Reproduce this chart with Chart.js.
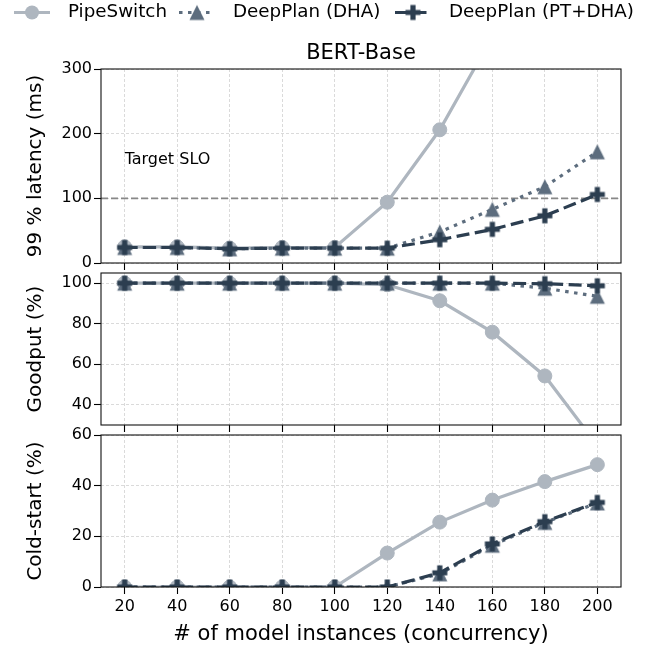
<!DOCTYPE html>
<html>
<head>
<meta charset="utf-8">
<script src="https://cdn.jsdelivr.net/npm/chart.js@4.4.1/dist/chart.umd.min.js"></script>
<style>
  html, body { margin:0; padding:0; background:#fff; }
  #wrap { position:relative; width:646px; height:649px; overflow:hidden; }
  canvas { position:absolute; left:0; }
</style>
</head>
<body>
<div id="wrap">
  <canvas id="latency" width="646" height="275" style="top:0px;width:646px;height:275px"></canvas>
  <canvas id="goodput" width="646" height="172" style="top:265px;width:646px;height:172px"></canvas>
  <canvas id="coldstart" width="646" height="222" style="top:427px;width:646px;height:222px"></canvas>
</div>
<script>
// ---- data ----
const concurrency = [20, 40, 60, 80, 100, 120, 140, 160, 180, 200];
const seriesNames = ['PipeSwitch', 'DeepPlan (DHA)', 'DeepPlan (PT+DHA)'];

const latencyPipeSwitch = [25, 25, 23, 24, 24, 94, 206, 350, 520, 700];
const latencyDHA        = [24, 24, 22, 23, 23, 23, 48, 83, 118, 172];
const latencyPTDHA      = [24, 24, 22, 23, 23, 23, 36, 52, 73, 106];

const goodputPipeSwitch = [100, 100, 100, 100, 100, 99.2, 91.3, 75.8, 54.2, 20];
const goodputDHA        = [100, 100, 100, 100, 100, 100, 100, 100, 97.5, 93.5];
const goodputPTDHA      = [100, 100, 100, 100, 100, 100, 100, 100, 99.7, 98.7];

const coldPipeSwitch = [0, 0, 0, 0, 0, 13.4, 25.6, 34.3, 41.6, 48.3];
const coldDHA        = [0, 0, 0, 0, 0, 0, 5.2, 16.5, 25.5, 33.2];
const coldPTDHA      = [0, 0, 0, 0, 0, 0, 5.6, 17.0, 25.8, 33.4];

const xTicks = [20, 40, 60, 80, 100, 120, 140, 160, 180, 200];
const latencyTicks = [0, 100, 200, 300];
const goodputTicks = [40, 60, 80, 100];
const coldTicks = [0, 20, 40, 60];

const sloLatency = 100;
const sloLabel = 'Target SLO';
const sloLabelPos = [20, 160];

// ---- styles ----
const FONT = "'DejaVu Sans', 'Liberation Sans', sans-serif";
Chart.defaults.font.family = FONT;
Chart.defaults.color = '#000';

const colors = ['#aeb6bf', '#5d6d7e', '#2c3e50'];
const dashes = [[], [3.5, 5.5], [13, 5.5]];
const legendTextX = [68, 233, 449];

function markerCanvas(kind, color){
  const c = document.createElement('canvas');
  c.width = 18; c.height = 18;
  const g = c.getContext('2d');
  g.fillStyle = color;
  g.beginPath();
  if(kind === 'triangle'){
    g.moveTo(9, 1.5); g.lineTo(16.5, 16.5); g.lineTo(1.5, 16.5);
  } else {
    const a = 2.6, L = 7.5, m = 9;
    g.moveTo(m-a, m-L); g.lineTo(m+a, m-L); g.lineTo(m+a, m-a); g.lineTo(m+L, m-a);
    g.lineTo(m+L, m+a); g.lineTo(m+a, m+a); g.lineTo(m+a, m+L); g.lineTo(m-a, m+L);
    g.lineTo(m-a, m+a); g.lineTo(m-L, m+a); g.lineTo(m-L, m-a); g.lineTo(m-a, m-a);
  }
  g.closePath(); g.fill();
  return c;
}
const markers = ['circle', markerCanvas('triangle', colors[1]), markerCanvas('plus', colors[2])];

function ds(i, vals){
  return {
    label: seriesNames[i],
    data: concurrency.map((x, k) => ({x, y: vals[k]})),
    borderColor: colors[i], backgroundColor: colors[i],
    borderWidth: 3.2, borderDash: dashes[i], borderCapStyle: 'butt',
    pointStyle: markers[i], pointRadius: 7, pointBorderWidth: 1,
    pointBackgroundColor: colors[i], pointBorderColor: colors[i],
    order: 3 - i, tension: 0
  };
}

const boxPlugin = {
  id: 'box',
  afterDatasetsDraw(chart){
    const {ctx, chartArea:a} = chart;
    ctx.save();
    ctx.strokeStyle = '#111'; ctx.lineWidth = 1.1;
    ctx.strokeRect(a.left, a.top, a.right - a.left, a.bottom - a.top);
    ctx.restore();
  }
};

const sloPlugin = {
  id: 'slo',
  beforeDatasetsDraw(chart){
    const {ctx, chartArea:a, scales} = chart;
    const y = scales.y.getPixelForValue(sloLatency);
    ctx.save();
    ctx.strokeStyle = '#888'; ctx.lineWidth = 1.8; ctx.setLineDash([7, 3]);
    ctx.beginPath(); ctx.moveTo(a.left, y); ctx.lineTo(a.right, y); ctx.stroke();
    ctx.setLineDash([]);
    ctx.fillStyle = '#000'; ctx.font = '16px ' + FONT;
    ctx.textAlign = 'left'; ctx.textBaseline = 'middle';
    ctx.fillText(sloLabel, scales.x.getPixelForValue(sloLabelPos[0]), scales.y.getPixelForValue(sloLabelPos[1]));
    ctx.restore();
  }
};

const headerPlugin = {
  id: 'header',
  afterDraw(chart){
    const {ctx, chartArea:a} = chart;
    ctx.save();
    ctx.fillStyle = '#000';
    ctx.font = '21px ' + FONT; ctx.textAlign = 'center'; ctx.textBaseline = 'middle';
    ctx.fillText('BERT-Base', (a.left + a.right) / 2, 53.5);
    // legend
    ctx.font = '18.3px ' + FONT; ctx.textAlign = 'left';
    const ly = 12.5;
    seriesNames.forEach((name, i) => {
      const tx = legendTextX[i], hx = tx - 54;
      ctx.strokeStyle = colors[i]; ctx.lineWidth = 3.2; ctx.lineCap = 'butt';
      ctx.setLineDash(dashes[i]);
      ctx.beginPath(); ctx.moveTo(hx, ly); ctx.lineTo(hx + 36, ly); ctx.stroke();
      ctx.setLineDash([]);
      const mx = hx + 18;
      if(markers[i] === 'circle'){
        ctx.fillStyle = colors[i];
        ctx.beginPath(); ctx.arc(mx, ly, 7, 0, Math.PI * 2); ctx.fill();
      } else {
        ctx.drawImage(markers[i], mx - 9, ly - 9);
      }
      ctx.fillStyle = '#000';
      ctx.fillText(name, tx, ly);
    });
    ctx.restore();
  }
};

function makePanel(id, vals, yMin, yMax, yTicks, yTitle, padTop, xHeight, showX, extra){
  const gridOpts = { color:'#dadada', lineWidth:1, tickLength:7, tickColor:'#000', tickWidth:1.1, tickBorderDash:[] };
  return new Chart(document.getElementById(id), {
    type: 'line',
    data: { datasets: vals.map((v, i) => ds(i, v)) },
    options: {
      responsive: false, animation: false, events: [],
      layout: { padding: { top: padTop, left: 0, right: 25, bottom: 0 } },
      plugins: { legend: { display:false }, tooltip: { enabled:false } },
      scales: {
        x: {
          type: 'linear', min: 11, max: 209,
          afterBuildTicks: s => { s.ticks = xTicks.map(v => ({value: v})); },
          afterFit: s => { s.height = xHeight; s.paddingLeft = 0; s.paddingRight = 0; },
          ticks: { display: showX, color:'#000', font:{size:16}, padding:3, maxRotation:0, autoSkip:false },
          grid: gridOpts,
          border: { display:false, dash:[3, 2] },
          title: { display: showX, text:'# of model instances (concurrency)', color:'#000', font:{size:21}, padding:{top:0, bottom:2} }
        },
        y: {
          type: 'linear', min: yMin, max: yMax,
          afterBuildTicks: s => { s.ticks = yTicks.map(v => ({value: v})); },
          afterFit: s => { s.width = 101; s.paddingTop = 0; s.paddingBottom = 0; },
          ticks: { color:'#000', font:{size:16}, padding:2 },
          grid: gridOpts,
          border: { display:false, dash:[3, 2] },
          title: { display:true, text:yTitle, color:'#000', font:{size:20}, padding:{top:24, bottom:0} }
        }
      }
    },
    plugins: [boxPlugin].concat(extra || [])
  });
}

makePanel('latency', [latencyPipeSwitch, latencyDHA, latencyPTDHA], 0, 300, latencyTicks,
  '99 % latency (ms)', 69, 12, false, [sloPlugin, headerPlugin]);
makePanel('goodput', [goodputPipeSwitch, goodputDHA, goodputPTDHA], 30, 105, goodputTicks,
  'Goodput (%)', 5, 12, false);
makePanel('coldstart', [coldPipeSwitch, coldDHA, coldPTDHA], 0, 60, coldTicks,
  'Cold-start (%)', 6, 62, true);
</script>
</body>
</html>
